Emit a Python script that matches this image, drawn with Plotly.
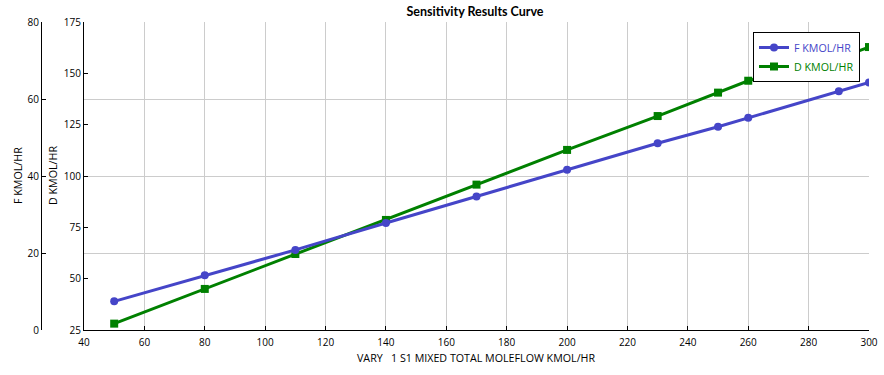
import plotly.graph_objects as go

x_vals = [50, 80, 110, 140, 170, 200, 230, 250, 260, 290, 300]
f_vals = [7.45, 14.2, 20.8, 27.8, 34.7, 41.6, 48.5, 52.8, 55.1, 62.0, 64.3]
d_vals = [28.1, 45.0, 62.0, 78.6, 95.8, 112.7, 129.2, 140.6, 146.4, 157.4, 162.8]

BLUE = "#4545C8"
GREEN = "#008000"
FONT = "Open Sans, Noto Sans, sans-serif"

fig = go.Figure()
fig.add_trace(go.Scatter(
    x=x_vals, y=f_vals, yaxis="y2", mode="lines+markers",
    name=f"<span style='color:{BLUE}'>F KMOL/HR</span>",
    line=dict(color=BLUE, width=3), marker=dict(symbol="circle", size=8, color=BLUE),
))
fig.add_trace(go.Scatter(
    x=x_vals, y=d_vals, yaxis="y", mode="lines+markers",
    name=f"<span style='color:{GREEN}'>D KMOL/HR</span>",
    line=dict(color=GREEN, width=3), marker=dict(symbol="square", size=8, color=GREEN),
))

W, H = 884, 375
ml, mr, mt, mb = 41, 15, 22, 45
pw = W - ml - mr
ph = H - mt - mb
dom0 = (84 - ml) / pw

def px(xp):
    return (xp - ml) / pw

def py(yp):
    return (H - mb - yp) / ph

axis_common = dict(showline=True, linecolor="black", linewidth=1,
                   ticks="inside", ticklen=4, tickcolor="black",
                   zeroline=False, automargin=False,
                   tickfont=dict(size=10, family=FONT, color="#000"))

fig.update_layout(
    width=W, height=H,
    margin=dict(l=ml, r=mr, t=mt, b=mb, autoexpand=False),
    paper_bgcolor="white", plot_bgcolor="white",
    font=dict(family=FONT, size=10.7, color="#000"),
    title=dict(text="<b>Sensitivity Results Curve</b>", x=px(475), xanchor="center", xref="paper",
               y=1 - 11.5 / H, yanchor="middle", font=dict(size=12.5, family="Lato, Open Sans, sans-serif")),
    showlegend=True,
    legend=dict(x=px(860), y=py(32), xanchor="right", yanchor="top",
                bgcolor="white", bordercolor="black", borderwidth=1,
                font=dict(size=10.7, family=FONT), tracegroupgap=0,
                itemwidth=30),
    xaxis=dict(domain=[dom0, 1], range=[40, 300], dtick=20, tick0=40, ticklabelstandoff=3,
               showgrid=True, gridcolor="#CCCCCC", gridwidth=1, **axis_common),
    yaxis=dict(range=[25, 175], dtick=25, tick0=25, anchor="x",
               showgrid=False, **axis_common),
    yaxis2=dict(range=[0, 80], dtick=20, overlaying="y", anchor="free", position=0,
                side="left",
                showgrid=True, gridcolor="#CCCCCC", gridwidth=1, **axis_common),
    annotations=[
        dict(text="VARY   1 S1 MIXED TOTAL MOLEFLOW KMOL/HR", xref="paper", yref="paper",
             x=px(476), y=py(358), xanchor="center", yanchor="middle",
             showarrow=False, font=dict(size=10.7)),
        dict(text="F KMOL/HR", xref="paper", yref="paper", textangle=-90,
             x=px(18), y=py(176), xanchor="center", yanchor="middle",
             showarrow=False, font=dict(size=10.7)),
        dict(text="D KMOL/HR", xref="paper", yref="paper", textangle=-90,
             x=px(53), y=py(176), xanchor="center", yanchor="middle",
             showarrow=False, font=dict(size=10.7)),
    ],
)

fig.write_html("out.html", config={"displayModeBar": False},
               post_script="document.body.style.margin='0';")
